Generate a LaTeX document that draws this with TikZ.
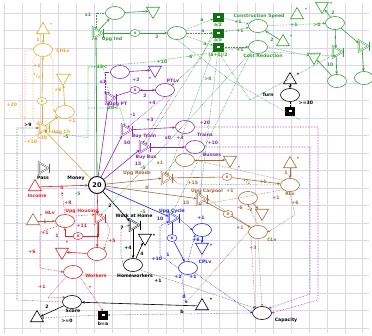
\documentclass[tikz,border=0pt]{standalone}
\usepackage{fontspec}
\setmainfont{DejaVu Sans}
\usetikzlibrary{shapes.geometric,arrows.meta}
\definecolor{gridc}{RGB}{218,214,238}
\definecolor{cor}{RGB}{236,168,40}
\definecolor{cgr}{RGB}{50,160,50}
\definecolor{cgd}{RGB}{20,110,20}
\definecolor{cpu}{RGB}{140,40,175}
\definecolor{cre}{RGB}{225,35,35}
\definecolor{cbr}{RGB}{170,105,55}
\definecolor{cbl}{RGB}{35,35,230}
\definecolor{cgy}{RGB}{90,90,90}
\tikzset{
 pool/.style={ellipse, draw, fill=white, line width=0.6pt, minimum width=19pt, minimum height=13pt, inner sep=0pt},
 srct/.style={regular polygon, regular polygon sides=3, draw, fill=white, line width=0.6pt, minimum size=15pt, inner sep=0pt},
 drnt/.style={srct, shape border rotate=180},
 conv/.style={regular polygon, regular polygon sides=3, shape border rotate=-90, draw, double=white, double distance=0.7pt, line width=0.45pt, minimum size=13pt, inner sep=0pt},
 reg/.style={ellipse, draw, fill=white, line width=0.5pt, minimum width=10pt, minimum height=7pt, inner sep=0pt, font=\fontsize{4.5}{4.5}\selectfont\bfseries},
 lb/.style={font=\fontsize{4.6}{5}\selectfont\bfseries, inner sep=0.3pt},
 fl/.style={-{Stealth[length=3pt,width=2.6pt]}, line width=0.6pt},
 fln/.style={line width=0.6pt},
 st/.style={densely dotted, line width=0.55pt, -{Stealth[length=2.4pt,width=2.2pt]}},
 stn/.style={densely dotted, line width=0.55pt},
 endc/.style={fill=black, draw=black, minimum width=9pt, minimum height=8pt, inner sep=0pt},
 gbox/.style={fill=cgd, draw=cgd, minimum width=10pt, minimum height=8pt, inner sep=0pt},
}
\begin{document}
\begin{tikzpicture}[x=1pt,y=-1pt]
\useasboundingbox (0,0) rectangle (372,335);
\begin{scope}
\clip (3,3) rectangle (369,333);
\foreach \i in {0,...,20} \draw[gridc, line width=0.5pt] ({4.7+17.9*\i},3) -- ({4.7+17.9*\i},333);
\foreach \j in {0,...,18} \draw[gridc, line width=0.5pt] (3,{13+17.5*\j}) -- (369,{13+17.5*\j});
\end{scope}

% ---------- nodes ----------
% orange
\node[srct, draw=cor] (osrc) at (43,30) {};
\node[pool, draw=cor] (chlv) at (43,50) {};
\node[drnt, draw=cor] (odrn) at (63,78) {};
\node[reg, draw=cor, text=cor] (oreg) at (42,101) {x};
\node[pool, draw=cor] (opool) at (65,112) {};
\node[conv, draw=cor] (upgch) at (42,128) {};
% green
\node[pool, draw=cgr] (gpool1) at (115,13) {};
\node[drnt, draw=cgr] (gdrn1) at (153,11) {};
\node[conv, draw=cgr] (upgind) at (96,33) {};
\node[reg, draw=cgr, text=cgr] (greg) at (135,33) {x};
\node[pool, draw=cgr] (gpool2) at (177,33) {};
\node[gbox] (gb1) at (218,17) {\color{white}\rule{3pt}{2pt}};
\node[gbox] (gb2) at (218,33) {\color{white}\rule{3pt}{2pt}};
\node[gbox] (gb3) at (218,47) {\color{white}\rule{3pt}{2pt}};
\node[pool, draw=cgr] (cs) at (258,26) {};
\node[pool, draw=cgr] (cr) at (258,47) {};
\node[srct, draw=cgr] (gsrc1) at (283,42) {};
\node[srct, draw=cgr] (gsrc2) at (297,15) {};
\node[drnt, draw=cgr] (gdrn2) at (322,6) {};
\node[pool, draw=cgr] (gpool3) at (335,23) {};
\node[conv, draw=cgr] (gconv1) at (336,52) {};
\node[conv, draw=cgr] (gconv2) at (362,46) {};
\node[drnt, draw=cgr] (gdrn3) at (314,57) {};
\node[pool, draw=cgr] (gpool4) at (337,81) {};
\node[pool, draw=cgr] (gpool5) at (364,78) {};
% turn
\node[srct, draw=black] (tsrc) at (290,80) {};
\node[pool, draw=black] (turn) at (290,95) {};
\node[endc] (tend) at (290,111) {\color{white}\rule{3pt}{2pt}};
% purple
\node[pool, draw=cpu] (ppool) at (120,72) {};
\node[drnt, draw=cpu] (pdrn) at (155,70) {};
\node[conv, draw=cpu] (upgpt) at (109,98) {};
\node[reg, draw=cpu, text=cpu] (preg) at (135,90) {x};
\node[pool, draw=cpu] (ptlv) at (165,90) {};
\node[conv, draw=cpu] (buytrain) at (125,130) {};
\node[pool, draw=cpu] (trains) at (185,127) {};
\node[conv, draw=cpu] (buybus) at (143,147) {};
\node[pool, draw=cpu] (busses) at (195,147) {};
% brown
\node[conv, draw=cbr] (upgroads) at (165,178) {};
\node[pool, draw=cbr] (bpool1) at (185,160) {};
\node[drnt, draw=cbr] (bdrn1) at (230,160) {};
\node[reg, draw=cbr, text=cbr] (breg1) at (227,177) {x};
\node[srct, draw=cbr] (bsrc1) at (290,164) {};
\node[pool, draw=cbr] (rlv) at (290,185) {};
\node[conv, draw=cbr] (upgcarpool) at (200,199) {};
\node[pool, draw=cbr] (bpool2) at (248,198) {};
\node[drnt, draw=cbr] (bdrn2) at (262,213) {};
\node[reg, draw=cbr, text=cbr] (breg2) at (228,214) {x};
\node[pool, draw=cbr] (clv) at (258,232) {};
\node[srct, draw=cbr] (bsrc2) at (33,221) {};
% red
\node[srct, draw=cre] (income) at (35,187) {};
\node[conv, draw=cre] (upghousing) at (98,218) {};
\node[pool, draw=cre] (hlv) at (65,221) {};
\node[reg, draw=cre, text=cre] (rreg) at (78,236) {x};
\node[drnt, draw=cre] (rdrn) at (62,252) {};
\node[pool, draw=cre] (rpool) at (97,254) {};
\node[pool, draw=cre] (workers) at (73,272) {};
% black / gray
\node[circle, draw, fill=white, line width=0.9pt, minimum size=17pt, inner sep=0pt, font=\fontsize{6.5}{7}\selectfont\bfseries] (money) at (97,185) {20};
\node[conv, draw=cgy] (pass) at (42,168) {};
\node[conv, draw=black] (wah) at (133,225) {};
\node[drnt, draw=black] (kdrn) at (145,238) {};
\node[pool, draw=black] (homew) at (133,265) {};
\node[pool, draw=black] (score) at (72,302) {};
\node[srct, draw=black] (ksrc1) at (37,318) {};
\node[srct, draw=black] (ksrc2) at (202,306) {};
\node[endc] (endbox) at (103,315) {\color{white}\rule{3pt}{2pt}};
\node[pool, draw=black] (capacity) at (262,313) {};
% blue
\node[conv, draw=cbl] (upgcycle) at (172,218) {};
\node[pool, draw=cbl] (blpool) at (202,230) {};
\node[drnt, draw=cbl] (bldrn) at (202,247) {};
\node[reg, draw=cbl, text=cbl] (blreg) at (172,238) {x};
\node[pool, draw=cbl] (cplv) at (188,268) {};
\coordinate (scoremod) at (186,303);

\foreach \n/\c in {upgch/cor, upgind/cgr, gconv1/cgr, gconv2/cgr, upgpt/cpu, buytrain/cpu, buybus/cpu, upgroads/cbr, upgcarpool/cbr, upghousing/cre, upgcycle/cbl, wah/black, pass/cgy}
  \draw[\c, line width=0.6pt] ([yshift=4.5pt]\n.corner 1) -- ([yshift=-4.5pt]\n.corner 1);

% ---------- resource connections ----------
\draw[fl,cor] (osrc) -- (chlv);
\draw[fln,cor] (upgch) -- (oreg);
\draw[fl,cor] (oreg) -- (chlv);
\draw[fl,cor] (opool) -- (odrn);
\draw[fl,cor] (upgch) -- (opool);
\draw[fl,cor] (money) -- (upgch);

\draw[fl,cgr] (gpool1) -- (gdrn1);
\draw[fl,cgr] (upgind) -- (gpool1);
\draw[fln,cgr] (upgind) -- (greg);
\draw[fl,cgr] (greg) -- (gpool2);
\draw[fl,cgr, line width=0.8pt] (money) -- (upgind);
\draw[fl,cgr] (gsrc1) -- (cs);
\draw[fl,cgr] (gpool3) -- (gdrn2);
\draw[fl,cgr] (gpool3) -- (gconv1);
\draw[fl,cgr] (gconv1) -- (gpool4);
\draw[fl,cgr] (gpool3) -- (gconv2);
\draw[fl,cgr] (gconv2) -- (gpool5);
\draw[fl,cgr] (gpool4) -- (gdrn3);

\draw[fl] (tsrc) -- (turn);
\draw[stn] (turn) -- (tend);

\draw[fl,cpu] (money) -- (upgpt);
\draw[fl,cpu] (money) -- (buytrain);
\draw[fl,cpu] (money) -- (buybus);
\draw[fln,cpu] (upgpt) -- (preg);
\draw[fl,cpu] (preg) -- (ptlv);
\draw[fl,cpu] (ppool) -- (pdrn);
\draw[fl,cpu] (buytrain) -- (trains);
\draw[fl,cpu] (buybus) -- (busses);

\draw[fl,cbr] (money) -- (upgroads);
\draw[fl,cbr] (money) -- (upgcarpool);
\draw[fln,cbr] (upgroads) -- (breg1);
\draw[fl,cbr] (breg1) -- (rlv);
\draw[fl,cbr] (bsrc1) -- (rlv);
\draw[fl,cbr] (bpool1) -- (bdrn1);
\draw[fln,cbr] (upgcarpool) -- (breg2);
\draw[fl,cbr] (breg2) -- (clv);
\draw[fl,cbr] (bpool2) -- (bdrn2);
\draw[fl,cbr] (bsrc2) -- (hlv);

\draw[fl,cre] (income) -- (money);
\draw[fl,cre] (money) -- (upghousing);
\draw[fln,cre] (upghousing) |- (rreg);
\draw[fl,cre] (rreg) -| (hlv);
\draw[fl,cre] (upghousing) -- (rpool);
\draw[fl,cre] (rpool) -- (rdrn);

\draw[fl,cbl] (money) -- (upgcycle);
\draw[fln,cbl] (upgcycle) -- (blreg);
\draw[fl,cbl] (blreg) -- (cplv);
\draw[fl,cbl] (blpool) -- (bldrn);

\draw[fl] (money) -- (wah);
\draw[fl] (wah) -- (homew);
\draw[fl] (homew) -- (kdrn);
\draw[fl] (ksrc2) -- (score);
\draw[fl] (score) -- (ksrc1);

% ---------- state connections ----------
% orange
\draw[st,cor] (chlv.south east) -- (53,60) -- (53,108) -- (opool.west);
\draw[st,cor] (chlv.south west) -- (33,60) -- (33,120) -- (upgch.north west);
\draw[st,cor] (chlv.west) -- (25,50) -- (25,142) -- (upgch.south);
\draw[stn,cor] (20,95) -- (20,115) -- (25,118);
% gray
\draw[st,cgy] (score.west) -- (17,300) -- (17,128) -- (upgch.west);
% green
\draw[st,cgr] (gpool1.west) -| (upgind.north);
\draw[st,cgr] (gpool2) -- (gb1);
\draw[st,cgr] (gpool2) -- (gb2);
\draw[st,cgr] (gpool2) -- (gb3);
\draw[st,cgr] (gb1) -- (cs);
\draw[st,cgr] (gb2) -- (cs);
\draw[st,cgr] (gb3) -- (cr);
\draw[st,cgr] (cs) -- (gpool3);
\draw[st,cgr] (cr.east) -- (gdrn3);
\draw[st,cgr] (cr.south east) -- (gconv1.south);
\draw[st,cgr] (cr.west) -- (150,62) -- (88,67) -- (88,138) -- (upgch.south east);
\draw[st,cgr] (88,67) -- (103,67) -- (upgpt.north);
\draw[st,cgr] (88,108) -- (120,108) -- (buytrain.north);
\draw[st,cgr] (gb3.south west) -- (upgroads.north east);
\draw[st,cgr] (gb3.south) -- (upgcarpool.north);
\draw[st,cgr] (cr.south west) -- (upgcycle.north);
\draw[st,cgr] (cr.south west) -- (upghousing.north east);
\draw[st,cgr] (gb2.south west) -- (buybus.north east);
\draw[st,cgr] (gb2.west) -- (200,60) -- (ptlv.north east);
\draw[stn,cgr] (gpool2.south) -- (230,80) -- (300,120);
\draw[stn,cgr] (gb3.south) -- (250,100) -- (gconv1.south west);
% purple
\draw[st,cpu] (ppool.west) -| (upgpt.north west);
\draw[st,cpu] (ptlv) -- (preg);
\draw[st,cpu] (ptlv.south) -- (buytrain.north east);
\draw[st,cpu] (ptlv.south east) -- (buybus.north);
\draw[st,cpu] (trains.east) -- (318,127) -- (318,300) -- (capacity.east);
\draw[st,cpu] (busses.east) -- (310,147) -- (310,294) -- (capacity.north east);
% brown
\draw[st,cbr] (bpool1.west) -- (upgroads.north);
\draw[st,cbr] (rlv.west) -- (178,184) -- (upgroads.east);
\draw[st,cbr] (rlv.north west) -- (bpool1.east);
\draw[st,cbr] (clv.north west) -- (upgcarpool.east);
\draw[st,cbr] (clv.north) -- (bpool2.south);
\draw[st,cbr] (rlv.south) -- (295,215) -- (clv.east);
\draw[st,cbr] (rlv.south west) -- (200,205) -- (upgcarpool.south);
\draw[st,cbr] (clv.south west) -- (capacity.north west);
\draw[st,cbr] (clv.south) -- (capacity.north);
\draw[st,cbr] (clv.west) -- (scoremod);
% red
\draw[st,cre] (hlv.south west) -- (40,232) -- (40,268) -- (workers.west);
\draw[st,cre] (upghousing.east) -- (110,230) -- (rpool.north east);
\draw[st,cre] (hlv.north) -- (62,192);
\draw[st,cre] (hlv.north east) -- (upghousing.north west);
\draw[st,cre] (workers.south west) -- (48,298) -- (score.north west);
\draw[st,cre] (workers.south east) -- (endbox.north);
% blue
\draw[st,cbl] (upgcycle.east) -- (blpool.west);
\draw[st,cbl] (cplv.west) -- (160,255) -- (160,226) -- (upgcycle.south west);
\draw[st,cbl] (cplv.north) -- (blpool.south west);
\draw[st,cbl] (cplv.south west) -- (scoremod);
\draw[st,cbl] (cplv.south east) -- (capacity.west);
% black / gray
\draw[st,cgy] (homew.south east) -- (capacity.north west);
\draw[st,cgy] (capacity.west) -- (endbox.east);
\draw[st,cgy] (endbox.west) -- (ksrc1.east);
\draw[st,cgy] (homew.west) -- (121,255) -- (121,228) -- (wah.west);

% ---------- labels ----------
\foreach \x/\y/\t [count=\i] in {51/25/*, 38/40/1, 63/51/CHLv, 37/66/+1, 37/76/{\textsuperscript{1}/\textsubscript{2}}, 70/76/*, 58/90/+6, 12/105/+20, 56/118/1, 72/121/+1, 61/132/{Upg Ch}, 32/142/+10, 42/138/>30}
  \node[lb,text=cor] (lor\i) at (\x,\y) {\t};
\foreach \x/\y/\t [count=\i] in {28/125/>9, 43/178/Pass, 76/178/Money, 110/206/2, 134/216/{Work at Home}, 154/236/*, 122/228/7, 128/248/+4, 142/254/4, 135/276/Homeworkers, 158/281/+1, 73/311/Score, 47/307/2, 211/300/*, 67/321/>=0, 103/324/b=a, 182/312/b, 286/320/Capacity, 268/95/Turn, 298/75/*, 306/103/>=30}
  \node[lb,text=black] (lbk\i) at (\x,\y) {\t};
\foreach \x/\y/\t [count=\i] in {88/15/x1, 112/39/{Upg Ind}, 157/37/2, 202/20/a, 203/31/a, 205/44/a, 218/25/{a/2}, 218/40/{a/5}, 218/55/{(a+1)/2}, 238/22/+1, 240/31/+1, 240/50/+1, 259/16/{Construction Speed}, 263/56/{Cost Reduction}, 272/40/2, 291/37/*, 294/25/+1, 317/25/>0, 306/10/*, 331/4/*, 333/13/2, 330/65/10, 102/67/15<, 113/108/20<, 190/57/-6, 162/62/+10, 208/79/>0, 66/137/-5, 143/168/-5, 78/194/-5, 143/212/-5}
  \node[lb,text=cgr] (lgr\i) at (\x,\y) {\t};
\foreach \x/\y/\t [count=\i] in {103/82/x1, 136/80/+2, 150/79/*, 173/81/PTLv, 118/104/{Upg PT}, 145/96/2, 152/103/+4, 133/115/-1, 150/120/+3, 144/136/{Buy Train}, 127/143/50, 205/123/+20, 205/135/Trains, 168/138/x0, 180/138/+3, 146/157/{Buy Bus}, 138/164/15, 213/143/+10, 212/155/Busses}
  \node[lb,text=cpu] (lpu\i) at (\x,\y) {\t};
\foreach \x/\y/\t [count=\i] in {160/163/x1, 239/168/*, 137/173/{Upg Roads}, 147/188/0, 193/183/+15, 247/182/{\textsuperscript{1}/\textsubscript{2}}, 263/182/+1, 298/159/*, 286/173/1, 290/194/RLv, 295/203/+6, 207/191/{Upg Carpool}, 186/203/15, 230/191/+1, 276/198/+1, 240/208/-6, 250/210/-2, 240/228/+1, 272/240/CLv, 253/248/+3, 41/216/*, 45/222/1}
  \node[lb,text=cbr] (lbr\i) at (\x,\y) {\t};
\foreach \x/\y/\t [count=\i] in {37/196/Income, 62/188/0, 68/203/+8, 82/211/{Upg Housing}, 50/213/HLv, 82/226/+11, 45/233/+1, 57/236/1, 112/241/+5, 67/243/*, 32/252/+6, 96/276/Workers, 42/287/+1, 90/288/*}
  \node[lb,text=cre] (lre\i) at (\x,\y) {\t};
\foreach \x/\y/\t [count=\i] in {172/211/{Upg Cycle}, 160/219/10, 201/218/+1, 196/240/+6, 211/246/*, 168/255/1, 157/259/+10, 205/262/CPLv, 178/277/+2, 193/277/+1, 184/297/0}
  \node[lb,text=cbl] (lbl\i) at (\x,\y) {\t};
\end{tikzpicture}
\end{document}
